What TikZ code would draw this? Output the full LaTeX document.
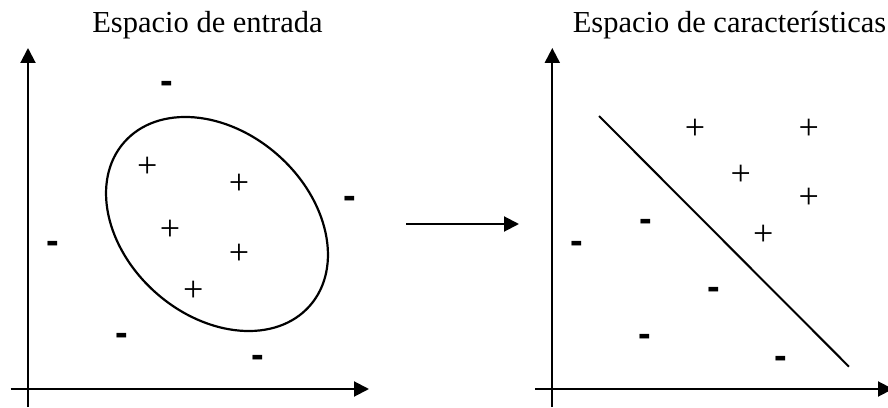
\documentclass[tikz,border=0pt]{standalone}
\usepackage{fontspec}
\setmainfont{Liberation Serif}
\newfontfamily\markfont{Liberation Sans}[BoldFont={Liberation Sans Bold}]
\usetikzlibrary{arrows.meta}
\tikzset{
  axis/.style={line width=2pt,-{Triangle[length=15pt,width=15pt]}},
  plain/.style={line width=2pt},
  title/.style={font=\fontsize{30.5}{32}\selectfont, inner sep=0pt, anchor=base},
  pl/.style={font=\fontsize{36}{38}\selectfont, inner sep=0pt, anchor=base, yshift=-9.1pt},
  mi/.style={font=\markfont\bfseries\fontsize{38}{40}\selectfont, inner sep=0pt, anchor=base, yshift=-9.8pt},
}
\begin{document}
\begin{tikzpicture}[x=1pt,y=1pt]
\useasboundingbox (0,0) rectangle (888,407);
% left axes
\coordinate (lvb) at (28,0);
\coordinate (lvt) at (28,359);
\coordinate (lhl) at (10.7,18);
\coordinate (lhr) at (369,18);
\draw[axis] (lvb) -- (lvt);
\draw[axis] (lhl) -- (lhr);
% right axes
\coordinate (rvb) at (552.3,0);
\coordinate (rvt) at (552.3,359);
\coordinate (rhl) at (535,18);
\coordinate (rhr) at (893,18);
\draw[axis] (rvb) -- (rvt);
\draw[axis] (rhl) -- (rhr);
% mapping arrow
\coordinate (ma) at (406,183);
\coordinate (mb) at (519,183);
\draw[axis] (ma) -- (mb);
% ellipse
\coordinate (ec) at (217,183);
\draw[line width=2.2pt] (ec) ellipse [x radius=123.7, y radius=92, rotate=-41.4];
% separating line
\coordinate (sa) at (599,291);
\coordinate (sb) at (849,40.3);
\draw[plain] (sa) -- (sb);
% titles
\node[title] (t1) at (207.5,374) {Espacio de entrada};
\node[title] (t2) at (729.5,374) {Espacio de características};
% left marks
\node[pl] (lp1) at (147.3,238.7) {+};
\node[pl] (lp2) at (239,221.3) {+};
\node[pl] (lp3) at (170,175.3) {+};
\node[pl] (lp4) at (239,152) {+};
\node[pl] (lp5) at (193.3,114.3) {+};
\node[mi] (lm1) at (166.7,323) {-};
\node[mi] (lm2) at (350,208.7) {-};
\node[mi] (lm3) at (52.7,163.3) {-};
\node[mi] (lm4) at (121.7,71) {-};
\node[mi] (lm5) at (258.3,49) {-};
% right marks
\node[pl] (rp1) at (695,276.3) {+};
\node[pl] (rp2) at (808.7,276.3) {+};
\node[pl] (rp3) at (740.7,230.3) {+};
\node[pl] (rp4) at (808.7,207.7) {+};
\node[pl] (rp5) at (763.3,170.3) {+};
\node[mi] (rm1) at (645.7,185) {-};
\node[mi] (rm2) at (577.3,163.3) {-};
\node[mi] (rm3) at (714.3,117.7) {-};
\node[mi] (rm4) at (645,70) {-};
\node[mi] (rm5) at (781,48) {-};
\end{tikzpicture}
\end{document}
